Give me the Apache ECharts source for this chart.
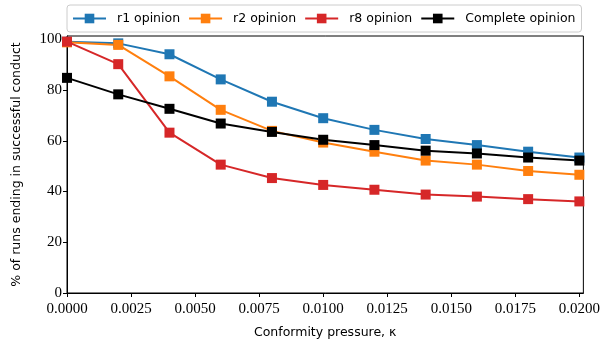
<!DOCTYPE html>
<html>
<head>
<meta charset="utf-8">
<script src="https://cdn.jsdelivr.net/npm/echarts@6/dist/echarts.min.js"></script>
<style>
  html, body { margin: 0; padding: 0; background: #fff; }
  #chart { width: 603px; height: 345px; }
</style>
</head>
<body>
<div id="chart"></div>
<script>
// Conformity pressure values (kappa)
const kappa = [0, 0.002, 0.004, 0.006, 0.008, 0.010, 0.012, 0.014, 0.016, 0.018, 0.020];

// % of runs ending in successful conduct, per opinion model
const r1Opinion       = [99.0, 98.4, 94.1, 84.2, 75.4, 68.9, 64.3, 60.7, 58.3, 55.7, 53.4];
const r2Opinion       = [98.8, 97.8, 85.4, 72.2, 63.9, 59.3, 55.7, 52.2, 50.6, 48.1, 46.6];
const r8Opinion       = [99.1, 90.2, 63.2, 50.6, 45.3, 42.6, 40.7, 38.8, 38.0, 37.0, 36.1];
const completeOpinion = [84.8, 78.3, 72.6, 66.8, 63.5, 60.4, 58.3, 56.1, 55.0, 53.4, 52.2];

const xTicks = [0, 0.0025, 0.005, 0.0075, 0.01, 0.0125, 0.015, 0.0175, 0.02];
const yTicks = [0, 20, 40, 60, 80, 100];

const seriesDefs = [
  { name: 'r1 opinion', values: r1Opinion, color: '#1f77b4' },
  { name: 'r2 opinion', values: r2Opinion, color: '#ff7f0e' },
  { name: 'r8 opinion', values: r8Opinion, color: '#d62728' },
  { name: 'Complete opinion', values: completeOpinion, color: '#000000' }
];

const sansFont = 'DejaVu Sans';
const serifFont = 'Liberation Serif';

const chart = echarts.init(document.getElementById('chart'), null, { renderer: 'canvas' });

chart.setOption({
  animation: false,
  backgroundColor: '#ffffff',
  grid: {
    left: 67, right: 18, top: 36, bottom: 52,
    show: true, borderColor: '#000', borderWidth: 1, backgroundColor: 'transparent'
  },
  legend: {
    left: 67, top: 5,
    padding: [7, 6, 7, 5],
    borderColor: '#cccccc', borderWidth: 1, borderRadius: 3,
    backgroundColor: 'rgba(255,255,255,0.8)',
    itemWidth: 33, itemHeight: 12, itemGap: 8,
    textStyle: { fontFamily: sansFont, fontSize: 12.5, color: '#000', padding: [0, 0, 0, 6] },
    data: seriesDefs.map(s => s.name)
  },
  xAxis: {
    type: 'value',
    min: 0, max: 0.020156,
    name: 'Conformity pressure, \u03ba',
    nameLocation: 'middle', nameGap: 33,
    nameTextStyle: { fontFamily: sansFont, fontSize: 12.5, color: '#000' },
    axisLine: { show: true, onZero: false, lineStyle: { color: '#000', width: 1 } },
    axisTick: { show: true, length: 4, inside: false, customValues: xTicks, lineStyle: { color: '#000', width: 1 } },
    axisLabel: {
      customValues: xTicks, margin: 9,
      fontFamily: serifFont, fontSize: 15, color: '#000',
      formatter: v => v.toFixed(4)
    },
    splitLine: { show: false }
  },
  yAxis: {
    type: 'value',
    min: 0, max: 101.3,
    name: '% of runs ending in successful conduct',
    nameLocation: 'middle', nameGap: 44,
    nameTextStyle: { fontFamily: sansFont, fontSize: 12.5, color: '#000' },
    axisLine: { show: true, onZero: false, lineStyle: { color: '#000', width: 1 } },
    axisTick: { show: true, length: 4, inside: false, customValues: yTicks, lineStyle: { color: '#000', width: 1 } },
    axisLabel: {
      customValues: yTicks, margin: 5,
      fontFamily: serifFont, fontSize: 15, color: '#000'
    },
    splitLine: { show: false }
  },
  series: seriesDefs.map(s => ({
    name: s.name,
    type: 'line',
    data: kappa.map((k, i) => [k, s.values[i]]),
    symbol: 'rect',
    symbolSize: 10,
    showAllSymbol: true,
    clip: false,
    color: s.color,
    lineStyle: { color: s.color, width: 2 },
    itemStyle: { color: s.color },
    emphasis: { disabled: true }
  }))
});
</script>
</body>
</html>
